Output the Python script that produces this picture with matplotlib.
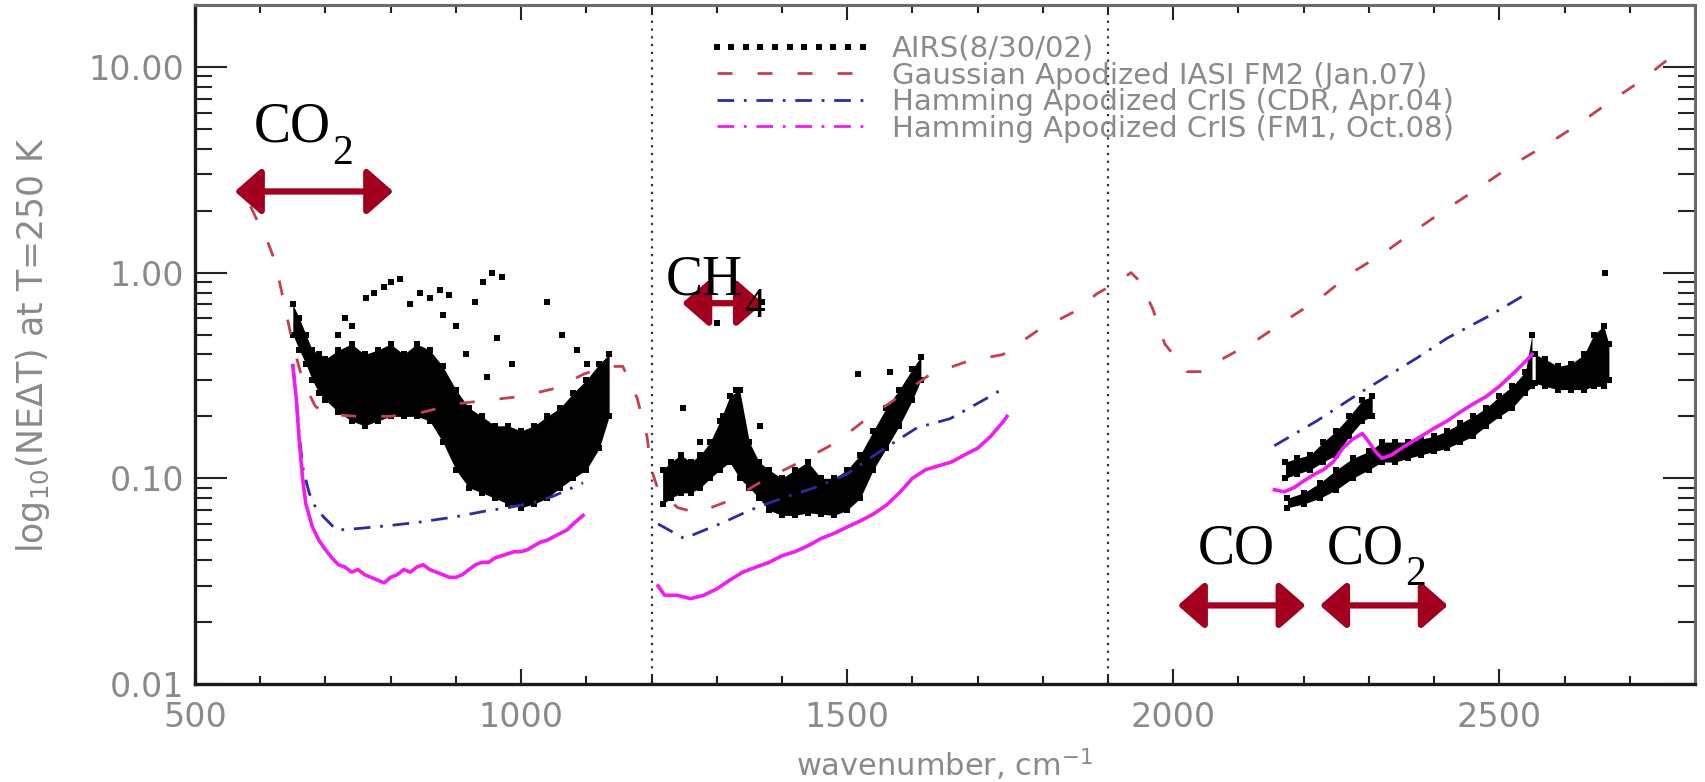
import numpy as np
import matplotlib
matplotlib.use("Agg")
import matplotlib.pyplot as plt
from matplotlib.lines import Line2D
from matplotlib.ticker import MultipleLocator, LogLocator, FuncFormatter, NullFormatter

# ---- data (wavenumber in cm-1, NEdT in K) ----
# AIRS dense channel spread per band: wavenumber, lower / upper edge
airs1_wn = [650, 660, 670, 680, 690, 700, 720, 740, 760, 780, 800, 820, 840, 860,
            880, 900, 920, 940, 960, 980, 1000, 1020, 1040, 1060, 1080, 1100, 1120, 1135]
airs1_lo = [0.5, 0.42, 0.36, 0.3, 0.26, 0.24, 0.21, 0.19, 0.18, 0.19, 0.2, 0.2, 0.2, 0.19,
            0.15, 0.11, 0.09, 0.085, 0.08, 0.075, 0.072, 0.075, 0.08, 0.09, 0.1, 0.11, 0.14, 0.2]
airs1_hi = [0.7, 0.6, 0.5, 0.42, 0.4, 0.38, 0.42, 0.45, 0.4, 0.42, 0.45, 0.4, 0.45, 0.42,
            0.35, 0.27, 0.22, 0.2, 0.18, 0.18, 0.17, 0.18, 0.2, 0.22, 0.26, 0.3, 0.36, 0.4]

airs2_wn = [1217, 1230, 1245, 1260, 1275, 1290, 1305, 1320, 1335, 1350, 1365, 1380,
            1400, 1420, 1440, 1460, 1480, 1500, 1520, 1540, 1560, 1580, 1600, 1613]
airs2_lo = [0.075, 0.08, 0.085, 0.085, 0.09, 0.1, 0.11, 0.12, 0.1, 0.09, 0.08, 0.07,
            0.066, 0.066, 0.068, 0.067, 0.066, 0.07, 0.08, 0.11, 0.14, 0.18, 0.24, 0.3]
airs2_hi = [0.11, 0.12, 0.13, 0.12, 0.13, 0.15, 0.19, 0.25, 0.27, 0.15, 0.12, 0.11,
            0.1, 0.11, 0.12, 0.1, 0.1, 0.11, 0.13, 0.17, 0.22, 0.27, 0.34, 0.39]

airs3a_wn = [2172, 2190, 2210, 2230, 2250, 2270, 2290, 2305]
airs3a_lo = [0.1, 0.105, 0.11, 0.12, 0.13, 0.16, 0.19, 0.2]
airs3a_hi = [0.12, 0.125, 0.13, 0.15, 0.17, 0.2, 0.24, 0.25]

airs3b_wn = [2175, 2200, 2225, 2250, 2275, 2300, 2320, 2340, 2360, 2380, 2400, 2420,
             2440, 2460, 2480, 2500, 2520, 2540, 2550]
airs3b_lo = [0.072, 0.075, 0.08, 0.088, 0.1, 0.11, 0.12, 0.12, 0.125, 0.13, 0.135, 0.14,
             0.15, 0.16, 0.18, 0.2, 0.22, 0.26, 0.28]
airs3b_hi = [0.08, 0.085, 0.095, 0.11, 0.125, 0.135, 0.15, 0.15, 0.15, 0.155, 0.16, 0.17,
             0.185, 0.2, 0.22, 0.25, 0.28, 0.33, 0.5]

airs3c_wn = [2555, 2570, 2590, 2610, 2630, 2645, 2660, 2668]
airs3c_lo = [0.29, 0.28, 0.27, 0.27, 0.27, 0.28, 0.28, 0.3]
airs3c_hi = [0.4, 0.38, 0.35, 0.36, 0.4, 0.5, 0.55, 0.45]

# AIRS isolated noisy channels
airs_out_wn = [720, 730, 740, 762, 775, 790, 800, 815, 830, 845, 860, 875, 880, 890, 900,
               915, 930, 942, 948, 955, 963, 970, 986, 1040, 1063, 1086, 1101,
               1249, 1274, 1300, 1310, 1330, 1366, 1369, 1517, 1566, 2662]
airs_out_val = [0.5, 0.6, 0.55, 0.75, 0.8, 0.85, 0.9, 0.93, 0.7, 0.8, 0.75, 0.82, 0.62, 0.78, 0.55,
                0.4, 0.72, 0.9, 0.31, 1.0, 0.48, 0.95, 0.36, 0.72, 0.5, 0.42, 0.36,
                0.22, 0.15, 0.57, 0.2, 0.27, 0.18, 0.72, 0.32, 0.33, 1.0]

# Gaussian apodized IASI FM2
iasi_wn = [585, 597, 610, 623, 635, 650, 665, 684, 700, 750, 800, 850, 900, 950, 1000,
           1055, 1095, 1130, 1156, 1178, 1193, 1200, 1210, 1240, 1270, 1320, 1377, 1428,
           1484, 1530, 1580, 1627, 1684, 1739, 1791, 1846, 1883, 1920, 1935, 1950, 1969,
           1987, 2021, 2045, 2075, 2128, 2174, 2225, 2274, 2322, 2368, 2420, 2470, 2521,
           2573, 2619, 2670, 2716, 2768]
iasi_val = [2.1, 1.75, 1.45, 1.13, 0.75, 0.45, 0.3, 0.225, 0.205, 0.2, 0.2, 0.21, 0.23, 0.24,
            0.25, 0.275, 0.32, 0.35, 0.35, 0.245, 0.16, 0.11, 0.088, 0.072, 0.068, 0.078, 0.1,
            0.12, 0.15, 0.195, 0.25, 0.32, 0.37, 0.4, 0.52, 0.64, 0.79, 0.92, 1.0, 0.9, 0.66,
            0.45, 0.33, 0.33, 0.38, 0.47, 0.59, 0.75, 1.0, 1.24, 1.58, 2.05, 2.6, 3.35,
            4.2, 5.2, 6.8, 8.5, 11.5]

# Hamming apodized CrIS (CDR)
cdr1_wn = [650, 655, 660, 666, 675, 685, 697, 717, 750, 800, 840, 900, 942, 980, 1018, 1050, 1095]
cdr1_val = [0.36, 0.25, 0.16, 0.11, 0.085, 0.072, 0.065, 0.056, 0.057, 0.059, 0.061, 0.065,
            0.069, 0.072, 0.076, 0.082, 0.095]
cdr2_wn = [1210, 1250, 1310, 1351, 1400, 1450, 1500, 1550, 1607, 1658, 1714, 1745]
cdr2_val = [0.06, 0.051, 0.061, 0.07, 0.08, 0.09, 0.105, 0.135, 0.176, 0.195, 0.245, 0.28]
cdr3_wn = [2155, 2220, 2286, 2374, 2420, 2486, 2545]
cdr3_val = [0.144, 0.19, 0.26, 0.385, 0.48, 0.62, 0.8]

# Hamming apodized CrIS (FM1)
fm1_1_wn = [650, 655, 660, 665, 670, 680, 690, 700, 710, 720, 730, 740, 750, 760, 770, 780,
            790, 800, 810, 820, 830, 840, 850, 860, 870, 880, 890, 900, 910, 920, 930, 940,
            950, 960, 970, 980, 990, 1000, 1010, 1020, 1030, 1040, 1050, 1060, 1070, 1080,
            1090, 1095]
fm1_1_val = [0.35, 0.25, 0.15, 0.1, 0.075, 0.058, 0.05, 0.045, 0.041, 0.038, 0.037, 0.035,
             0.036, 0.034, 0.033, 0.032, 0.031, 0.033, 0.034, 0.036, 0.035, 0.037, 0.038,
             0.036, 0.035, 0.034, 0.033, 0.033, 0.034, 0.036, 0.038, 0.039, 0.039, 0.041,
             0.042, 0.043, 0.044, 0.044, 0.045, 0.047, 0.049, 0.05, 0.052, 0.054, 0.056,
             0.06, 0.064, 0.066]
fm1_2_wn = [1210, 1220, 1240, 1260, 1280, 1300, 1320, 1340, 1360, 1380, 1400, 1420, 1440,
            1460, 1480, 1500, 1520, 1540, 1560, 1580, 1600, 1620, 1640, 1660, 1680, 1700,
            1720, 1740, 1745]
fm1_2_val = [0.03, 0.027, 0.027, 0.026, 0.027, 0.029, 0.032, 0.035, 0.037, 0.039, 0.042,
             0.044, 0.047, 0.051, 0.054, 0.058, 0.062, 0.067, 0.074, 0.085, 0.1, 0.11,
             0.115, 0.12, 0.13, 0.14, 0.16, 0.19, 0.2]
fm1_3_wn = [2155, 2170, 2185, 2200, 2215, 2230, 2245, 2260, 2275, 2290, 2300, 2310, 2320,
            2335, 2350, 2365, 2380, 2400, 2420, 2440, 2460, 2480, 2500, 2520, 2540, 2550]
fm1_3_val = [0.088, 0.086, 0.09, 0.097, 0.104, 0.11, 0.12, 0.14, 0.155, 0.165, 0.15, 0.135,
             0.125, 0.13, 0.14, 0.15, 0.16, 0.175, 0.19, 0.21, 0.23, 0.25, 0.28, 0.32,
             0.37, 0.4]

band_edges = [1200, 1900]
labels = ["AIRS(8/30/02)", "Gaussian Apodized IASI FM2 (Jan.07)",
          "Hamming Apodized CrIS (CDR, Apr.04)", "Hamming Apodized CrIS (FM1, Oct.08)"]
# gas annotations: formula, subscript, text x, baseline y, arrow x0, arrow x1, arrow y
gases = [("CO", "2", 590, 4.33, 561, 804, 2.48),
         ("CH", "4", 1222, 0.78, 1247, 1371, 0.71),
         ("CO", "", 2038, 0.0387, 2007, 2203, 0.0241),
         ("CO", "2", 2236, 0.0387, 2225, 2421, 0.0241)]

GRAY = "#8a8a8a"
RED = "#c4404e"
BLUE = "#2c2c9c"
MAGENTA = "#f01cf0"
ARROW = "#a3001f"

fig = plt.figure(figsize=(17.06, 7.82), dpi=100)
ax = fig.add_axes([195 / 1706, 98 / 782, 1500 / 1706, 679 / 782])
ax.set_yscale("log")
ax.set_xlim(500, 2800)
ax.set_ylim(0.01, 20)

# AIRS
for wn, lo, hi in [(airs1_wn, airs1_lo, airs1_hi), (airs2_wn, airs2_lo, airs2_hi),
                   (airs3a_wn, airs3a_lo, airs3a_hi), (airs3b_wn, airs3b_lo, airs3b_hi),
                   (airs3c_wn, airs3c_lo, airs3c_hi)]:
    ax.fill_between(wn, lo, hi, color="black", lw=0, zorder=2)
    ax.plot(wn, lo, "s", color="black", ms=4.5, mew=0, zorder=2)
    ax.plot(wn, hi, "s", color="black", ms=4.5, mew=0, zorder=2)
h_airs, = ax.plot(airs_out_wn, airs_out_val, "s", color="black", ms=4.5, mew=0, zorder=2)

h_iasi, = ax.plot(iasi_wn, iasi_val, color=RED, lw=2, dashes=(5.4, 9), zorder=3)
for wn, val in [(cdr1_wn, cdr1_val), (cdr2_wn, cdr2_val), (cdr3_wn, cdr3_val)]:
    h_cdr, = ax.plot(wn, val, color=BLUE, lw=2, dashes=(6, 3.5, 1, 3.5), zorder=3)
for wn, val in [(fm1_1_wn, fm1_1_val), (fm1_2_wn, fm1_2_val), (fm1_3_wn, fm1_3_val)]:
    ax.plot(wn, val, color=MAGENTA, lw=2.6, zorder=3)
h_fm1 = Line2D([], [], color=MAGENTA, lw=2, dashes=(6, 3.5, 1, 3.5))

for x in band_edges:
    ax.axvline(x, color="#333333", lw=1.6, ls=(0, (1, 2.5)), zorder=1)

for base, sub, tx, ty, x0, x1, ay in gases:
    ax.annotate("", xy=(x1, ay), xytext=(x0, ay),
                arrowprops=dict(arrowstyle="<|-|>,head_length=0.8,head_width=0.7",
                                lw=4.5, color=ARROW, mutation_scale=20,
                                shrinkA=0, shrinkB=0), zorder=6)
    t = ax.text(tx, ty, base, fontsize=40, family="Liberation Serif",
                ha="left", va="baseline", zorder=7)
    if sub:
        ax.annotate(sub, xy=(1, 0), xycoords=t, xytext=(1, 14), textcoords="offset points",
                    fontsize=30, family="Liberation Serif", ha="left", va="top", zorder=7)

leg = fig.legend([h_airs, h_iasi, h_cdr, h_fm1], labels, loc="upper left",
                 bbox_to_anchor=(708 / 1706, 1 - 35 / 782), bbox_transform=fig.transFigure,
                 frameon=False, fontsize=21, numpoints=11, handlelength=5.6,
                 handletextpad=0.7, labelspacing=-0.05, borderpad=0, borderaxespad=0)
for t in leg.get_texts():
    t.set_color(GRAY)

# axes styling
ax.xaxis.set_major_locator(MultipleLocator(500))
ax.xaxis.set_minor_locator(MultipleLocator(100))
ax.yaxis.set_major_locator(LogLocator(base=10))
ax.yaxis.set_minor_locator(LogLocator(base=10, subs=np.arange(2, 10)))
ax.yaxis.set_major_formatter(FuncFormatter(lambda v, p: "%.2f" % v))
ax.yaxis.set_minor_formatter(NullFormatter())
ax.tick_params(which="both", direction="in", top=True, right=True, colors="#222222",
               labelcolor=GRAY, labelsize=24, width=1.5)
ax.tick_params(axis="x", which="major", length=11, pad=12)
ax.tick_params(axis="x", which="minor", length=5.5)
ax.tick_params(axis="y", which="major", length=23, pad=8)
ax.tick_params(axis="y", which="minor", length=12)
for side in ["left", "bottom"]:
    ax.spines[side].set_linewidth(2.4)
    ax.spines[side].set_color("#1a1a1a")
for side in ["top", "right"]:
    ax.spines[side].set_linewidth(2.2)
    ax.spines[side].set_color("#6a6a6a")

ax.set_xlabel("wavenumber, cm$^{-1}$", fontsize=22, color=GRAY, labelpad=9)
fig.text(33 / 1706, 1 - 345 / 782, "log$_{10}$(NE\u0394T) at T=250 K", fontsize=25,
         color=GRAY, rotation=90, ha="center", va="center")

fig.savefig("out.png", dpi=100)
